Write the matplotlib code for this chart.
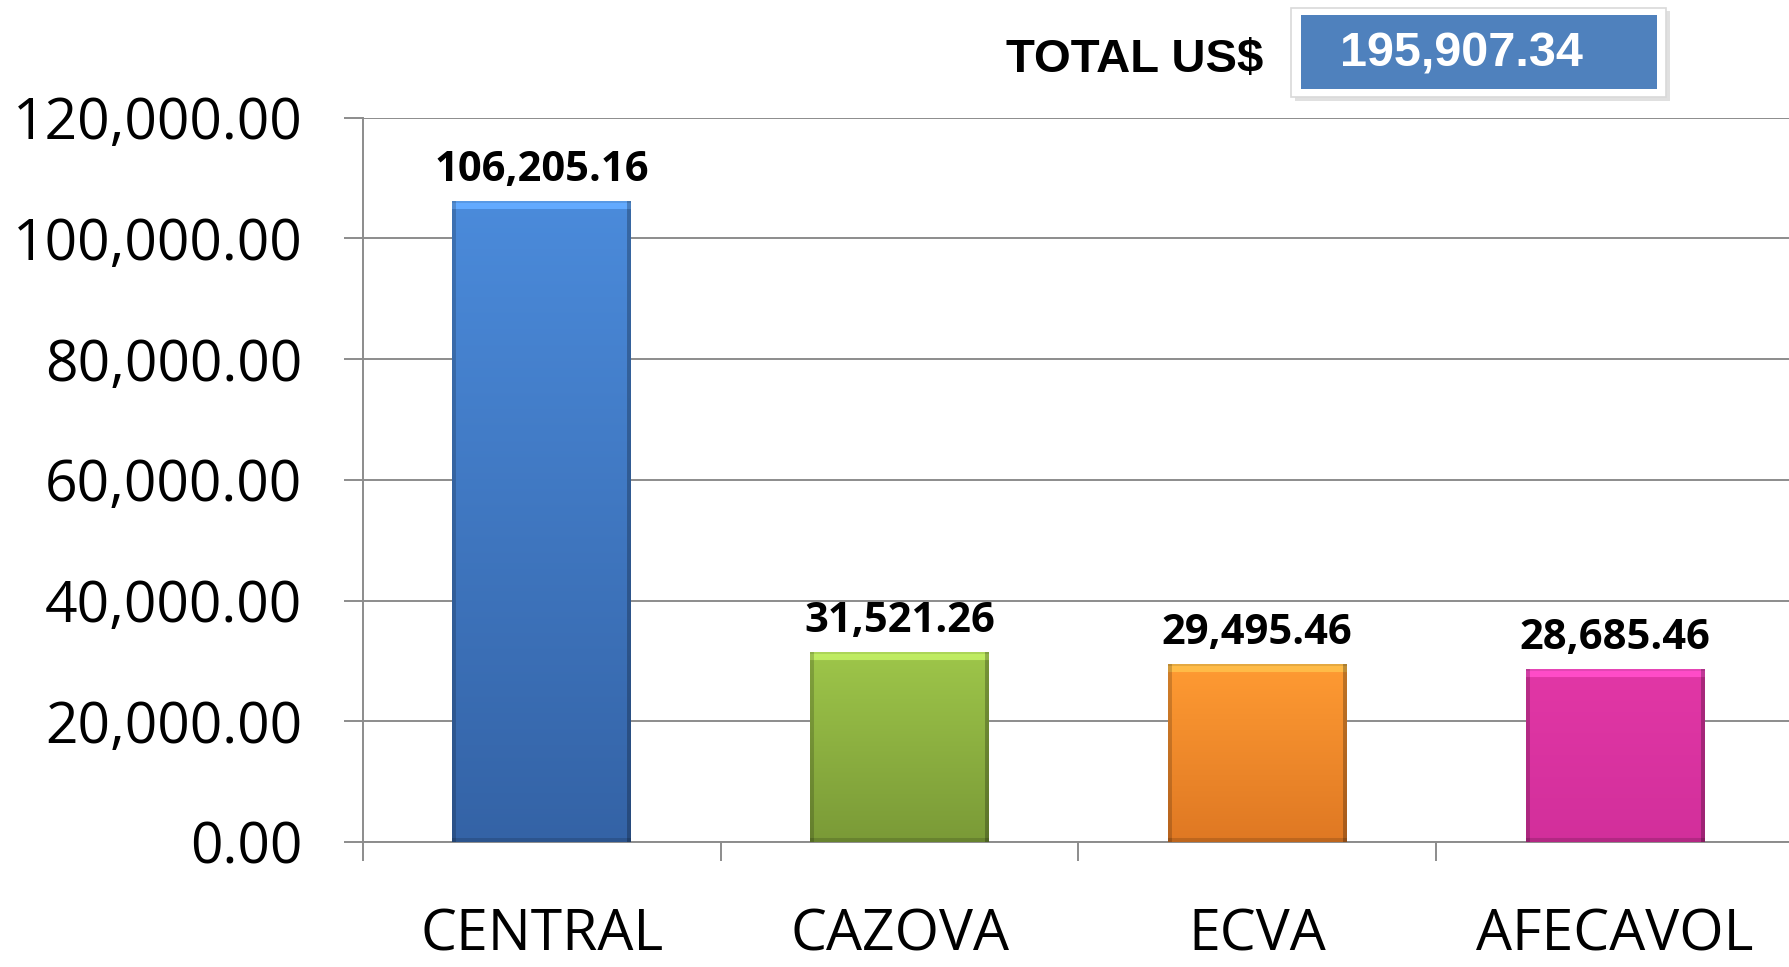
#!/usr/bin/env python3
"""Bar chart of US$ per group with a TOTAL box on top."""

import numpy as np
import matplotlib
matplotlib.use("Agg")
import matplotlib.pyplot as plt
from matplotlib.patches import Rectangle
from matplotlib.ticker import FuncFormatter, FixedLocator

# data
categories = ["CENTRAL", "CAZOVA", "ECVA", "AFECAVOL"]
values = [106205.16, 31521.26, 29495.46, 28685.46]
total_label = "195,907.34"
yticks = [0, 20000, 40000, 60000, 80000, 100000, 120000]

# top / bottom colours of each bar gradient
TOP = ["#4b8bdb", "#9ec64a", "#ff9b33", "#e237a6"]
BOT = ["#3463a6", "#7a9a37", "#df7823", "#d22f9b"]

GRID = "#8c8c8c"
FONT = ["Open Sans", "DejaVu Sans"]

W, H, DPI = 1789, 967, 100
fig = plt.figure(figsize=(W / DPI, H / DPI), dpi=DPI)

# axes placement (pixels of the reference)
x0, x1, yb, yt = 363, 1789, 842, 117.5
cat_px = 357.7
ax = fig.add_axes([x0 / W, 1 - yb / H, (x1 - x0) / W, (yb - yt) / H])
xmax = -0.5 + (x1 - x0) / cat_px
ax.set_xlim(-0.5, xmax)
ax.set_ylim(0, 120000)


def hex2rgb(h):
    h = h.lstrip("#")
    return np.array([int(h[i:i + 2], 16) / 255 for i in (0, 2, 4)])


bar_w = 0.5
px_per_val = (yb - yt) / 120000
for i, v in enumerate(values):
    bar = ax.bar(i, v, width=bar_w, color=BOT[i], edgecolor="none", zorder=3)[0]
    nrow = max(int(v * px_per_val), 2)
    ncol = 180
    t = np.linspace(0, 1, nrow)[:, None, None]
    img = hex2rgb(TOP[i]) * (1 - t) + hex2rgb(BOT[i]) * t
    img = np.repeat(img, ncol, axis=1)
    # bevel: light top band, dark side edges
    img[:9] = np.clip(img[:9] * 1.12 + 0.06, 0, 1)
    img[:3] = np.clip(img[:3] * 0.9, 0, 1)
    img[:, :4] *= 0.82
    img[:, -4:] *= 0.75
    img[-4:] *= 0.85
    im = ax.imshow(img, extent=(i - bar_w / 2, i + bar_w / 2, 0, v),
                   aspect="auto", zorder=3, interpolation="bilinear")
    im.set_clip_path(bar)
    ax.annotate(f"{v:,.2f}", xy=(i, v), xytext=(0, 14), textcoords="offset points",
                ha="center", va="baseline", fontsize=30, fontweight="bold",
                family=FONT, color="black", zorder=5)

ax.set_xlim(-0.5, xmax)
ax.set_ylim(0, 120000)

# grid and spines
ax.set_yticks(yticks)
ax.yaxis.set_major_formatter(FuncFormatter(lambda y, _: f"{y:,.2f}"))
ax.grid(axis="y", color=GRID, lw=1.4, zorder=1)
ax.set_axisbelow(True)
for s in ("top", "right"):
    ax.spines[s].set_visible(False)
for s in ("left", "bottom"):
    ax.spines[s].set_color(GRID)
    ax.spines[s].set_linewidth(1.4)

ax.set_xticks(range(len(categories)))
ax.set_xticklabels(categories)
ax.xaxis.set_minor_locator(FixedLocator(np.arange(-0.5, len(categories), 1.0)))
ax.tick_params(axis="x", which="major", length=0, pad=47, labelsize=41)
ax.tick_params(axis="x", which="minor", length=13.7, width=1.4, color=GRID, direction="out")
ax.tick_params(axis="y", length=13.7, width=1.4, color=GRID, pad=30, labelsize=41)
for lab in ax.get_xticklabels() + ax.get_yticklabels():
    lab.set_family(FONT)

# TOTAL box (figure pixels)
def fx(px):
    return px / W


def fy(py):
    return 1 - py / H


fig.patches.append(Rectangle((fx(1295), fy(101)), fx(375), 90 / H, transform=fig.transFigure,
                             facecolor="#000000", alpha=0.12, edgecolor="none", zorder=1))
fig.patches.append(Rectangle((fx(1291), fy(97)), fx(375), 89 / H, transform=fig.transFigure,
                             facecolor="white", edgecolor="#d9d9d9", lw=1.2, zorder=2))
fig.patches.append(Rectangle((fx(1301), fy(89)), fx(356), 74 / H, transform=fig.transFigure,
                             facecolor="#4f81bd", edgecolor="none", zorder=3))
fig.text(fx(1340), fy(54), total_label, ha="left", va="center", fontsize=35,
         fontweight="bold", color="white", family=["Liberation Sans", "DejaVu Sans"], zorder=4)
fig.text(fx(1263), fy(60), "TOTAL US$", ha="right", va="center", fontsize=34,
         fontweight="bold", color="black", family=["Liberation Sans", "DejaVu Sans"])

fig.savefig("out.png", dpi=DPI)
